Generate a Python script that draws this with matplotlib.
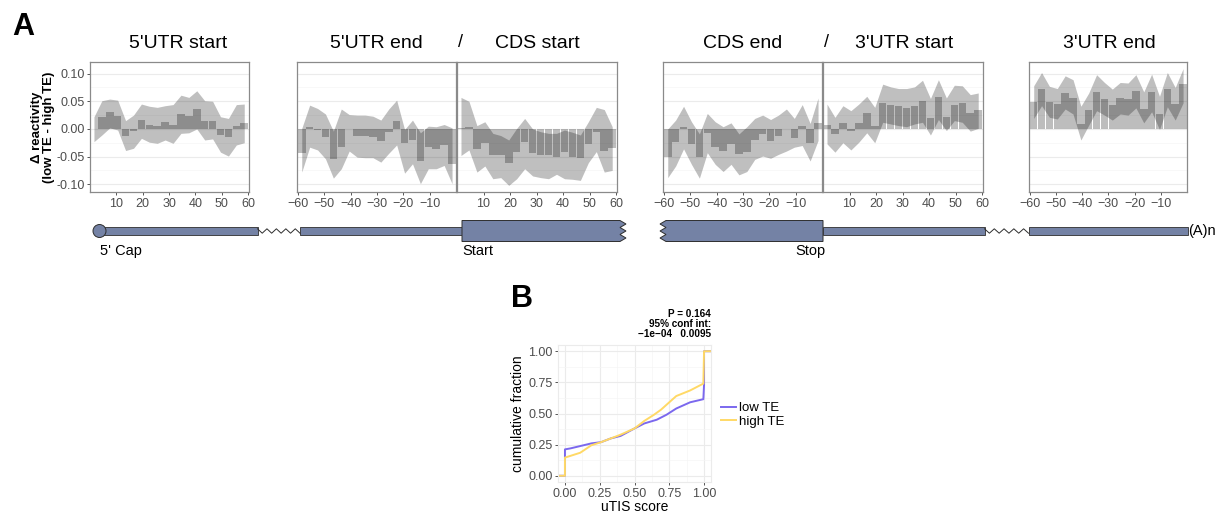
import numpy as np
import matplotlib.pyplot as plt
from matplotlib.patches import Rectangle, Circle, Polygon
from matplotlib.lines import Line2D

plt.rcParams["font.family"] = ["Liberation Sans", "DejaVu Sans"]

W, H = 1227, 513

# ---- panel A: delta reactivity (low TE - high TE) in 3-nt bins ----
pos_fwd = np.arange(1.5, 60, 3)      # bins counted from a start site
pos_rev = np.arange(-58.5, 0, 3)     # bins counted back from an end
ticks_fwd = [10, 20, 30, 40, 50, 60]
ticks_rev = [-60, -50, -40, -30, -20, -10]

utr5_start_bar = [-0.001, 0.022, 0.030, 0.024, -0.012, -0.004, 0.016, 0.008, 0.005, 0.012,
                  0.008, 0.027, 0.024, 0.036, 0.015, 0.015, -0.011, -0.015, 0.005, 0.010]
utr5_start_hi = [0.022, 0.051, 0.054, 0.052, 0.015, 0.025, 0.045, 0.041, 0.039, 0.042,
                 0.044, 0.061, 0.057, 0.069, 0.051, 0.050, 0.022, 0.019, 0.044, 0.045]
utr5_start_lo = [-0.023, -0.011, 0.002, -0.002, -0.039, -0.035, -0.017, -0.024, -0.026, -0.020,
                 -0.026, -0.008, -0.007, 0.000, -0.020, -0.018, -0.042, -0.049, -0.029, -0.025]

utr5_end_bar = [-0.043, 0.004, -0.002, -0.015, -0.054, -0.032, -0.001, -0.012, -0.012, -0.014,
                -0.022, -0.005, 0.014, -0.026, -0.020, -0.058, -0.033, -0.036, -0.029, -0.064]
utr5_end_hi = [0.001, 0.043, 0.037, 0.027, -0.004, 0.036, 0.026, 0.025, 0.025, 0.023,
               0.016, 0.036, 0.052, -0.001, 0.016, -0.007, 0.005, 0.004, 0.008, 0.002]
utr5_end_lo = [-0.078, -0.033, -0.038, -0.054, -0.089, -0.072, -0.040, -0.051, -0.052, -0.052,
               -0.060, -0.044, -0.029, -0.080, -0.063, -0.099, -0.072, -0.072, -0.066, -0.099]

cds_start_bar = [0.002, 0.003, -0.037, -0.026, -0.048, -0.047, -0.062, -0.041, -0.023, -0.044,
                 -0.047, -0.048, -0.050, -0.041, -0.050, -0.053, -0.028, -0.006, -0.040, -0.035]
cds_start_hi = [0.057, 0.050, 0.006, 0.013, -0.008, -0.012, -0.020, 0.001, 0.019, 0.000,
                -0.005, -0.008, -0.008, -0.002, -0.006, -0.011, 0.013, 0.039, 0.035, 0.004]
cds_start_lo = [-0.048, -0.038, -0.078, -0.067, -0.090, -0.088, -0.102, -0.090, -0.072, -0.085,
                -0.088, -0.090, -0.082, -0.090, -0.091, -0.093, -0.061, -0.041, -0.078, -0.075]

cds_end_bar = [-0.051, -0.024, 0.004, -0.027, -0.051, -0.007, -0.032, -0.040, -0.027, -0.046,
               -0.041, -0.020, -0.009, -0.021, -0.012, 0.000, -0.016, 0.006, -0.025, 0.011]
cds_end_hi = [0.000, 0.016, 0.041, 0.013, -0.009, 0.028, 0.013, 0.004, 0.011, -0.009,
              0.004, 0.019, 0.025, 0.017, 0.025, 0.036, 0.019, 0.044, 0.010, 0.056]
cds_end_lo = [-0.088, -0.067, -0.036, -0.064, -0.089, -0.043, -0.064, -0.077, -0.064, -0.083,
              -0.077, -0.055, -0.049, -0.053, -0.046, -0.040, -0.033, -0.030, -0.058, -0.021]

utr3_start_bar = [0.008, -0.010, 0.010, -0.004, 0.010, 0.028, 0.005, 0.047, 0.044, 0.041,
                  0.038, 0.041, 0.050, 0.020, 0.057, 0.022, 0.044, 0.047, 0.028, 0.035]
utr3_start_hi = [0.045, 0.021, 0.042, 0.033, 0.045, 0.059, 0.039, 0.081, 0.076, 0.073,
                 0.073, 0.076, 0.088, 0.055, 0.089, 0.056, 0.079, 0.078, 0.062, 0.065]
utr3_start_lo = [-0.027, -0.042, -0.025, -0.038, -0.024, -0.007, -0.025, 0.012, 0.009, 0.006,
                 0.004, 0.009, 0.012, -0.011, 0.017, -0.003, 0.015, 0.012, -0.004, 0.001]

utr3_end_bar = [0.049, 0.073, 0.048, 0.045, 0.065, 0.056, 0.009, 0.035, 0.067, 0.055,
                0.044, 0.056, 0.054, 0.069, 0.036, 0.067, 0.027, 0.073, 0.045, 0.081]
utr3_end_hi = [0.078, 0.102, 0.077, 0.073, 0.096, 0.089, 0.041, 0.065, 0.098, 0.084,
               0.072, 0.084, 0.083, 0.098, 0.067, 0.099, 0.059, 0.102, 0.075, 0.109]
utr3_end_lo = [0.019, 0.042, 0.021, 0.018, 0.036, 0.027, -0.020, 0.007, 0.033, 0.025,
               0.016, 0.027, 0.025, 0.038, 0.011, 0.031, -0.001, 0.040, 0.016, 0.047]

titles = ["5'UTR start", "5'UTR end", "CDS start", "CDS end", "3'UTR start", "3'UTR end"]

# ---- panel B: cumulative fraction of uTIS score ----
low_x = [-0.05, 0.0, 0.0, 0.04, 0.19, 0.26, 0.33, 0.40, 0.50, 0.57, 0.66, 0.73, 0.80, 0.90,
         0.995, 1.0, 1.0, 1.05]
low_y = [0.0, 0.0, 0.212, 0.22, 0.26, 0.27, 0.30, 0.32, 0.38, 0.42, 0.45, 0.49, 0.54, 0.59,
         0.615, 0.73, 1.0, 1.0]
high_x = [-0.05, 0.0, 0.0, 0.04, 0.11, 0.19, 0.26, 0.33, 0.40, 0.50, 0.57, 0.64, 0.69, 0.76,
          0.80, 0.90, 0.995, 1.0, 1.05]
high_y = [0.0, 0.0, 0.146, 0.16, 0.185, 0.245, 0.27, 0.30, 0.33, 0.38, 0.44, 0.49, 0.53, 0.60,
          0.64, 0.685, 0.74, 1.0, 1.0]
b_ticks = [0.0, 0.25, 0.5, 0.75, 1.0]


def fx(x):
    return x / W


def fy(y):
    return 1 - y / H


fig = plt.figure(figsize=(W / 100, H / 100), dpi=100)

# background axes in pixel units for the transcript schematic
bg = fig.add_axes([0, 0, 1, 1], zorder=0)
bg.set_xlim(0, W)
bg.set_ylim(H, 0)
bg.axis("off")

# ---- panel A ----
box_px = [(90, 249), (297, 456), (457, 617), (663, 822), (823, 983), (1029, 1187)]
top_px, bot_px = 62, 192
panel_data = [
    (pos_fwd, ticks_fwd, utr5_start_bar, utr5_start_lo, utr5_start_hi),
    (pos_rev, ticks_rev, utr5_end_bar, utr5_end_lo, utr5_end_hi),
    (pos_fwd, ticks_fwd, cds_start_bar, cds_start_lo, cds_start_hi),
    (pos_rev, ticks_rev, cds_end_bar, cds_end_lo, cds_end_hi),
    (pos_fwd, ticks_fwd, utr3_start_bar, utr3_start_lo, utr3_start_hi),
    (pos_rev, ticks_rev, utr3_end_bar, utr3_end_lo, utr3_end_hi),
]

for i, ((l, r), (x, ticks, bar, lo, hi)) in enumerate(zip(box_px, panel_data)):
    ax = fig.add_axes([fx(l), fy(bot_px), (r - l) / W, (bot_px - top_px) / H], zorder=1)
    ax.bar(x, bar, width=2.85, color="black", alpha=0.26, linewidth=0, zorder=2)
    ax.fill_between(x, lo, hi, color="black", alpha=0.25, linewidth=0, zorder=3)
    if ticks[0] > 0:
        ax.set_xlim(0, 60.3)
    else:
        ax.set_xlim(-60.3, 0)
    ax.set_ylim(-0.114, 0.121)
    ax.set_xticks(ticks)
    ax.set_yticks([-0.10, -0.05, 0.0, 0.05, 0.10])
    ax.set_yticks([-0.075, -0.025, 0.025, 0.075], minor=True)
    ax.grid(axis="y", which="major", color="#ebebeb", lw=0.8, zorder=0)
    ax.grid(axis="y", which="minor", color="#f5f5f5", lw=0.5, zorder=0)
    ax.set_axisbelow(True)
    for s in ax.spines.values():
        s.set_color("#8a8a8a")
        s.set_linewidth(0.9)
    ax.tick_params(axis="x", length=2.5, width=0.7, color="#555555", labelsize=9,
                   labelcolor="#4d4d4d", pad=1.5)
    if i == 0:
        ax.set_yticklabels(["-0.10", "-0.05", "0.00", "0.05", "0.10"])
        ax.tick_params(axis="y", which="major", length=2.5, width=0.7, color="#555555",
                       labelsize=9, labelcolor="#4d4d4d", pad=1.5)
        ax.tick_params(axis="y", which="minor", length=0)
    else:
        ax.tick_params(axis="y", which="both", left=False, labelleft=False)

title_x = [178, 376, 537, 743, 904, 1109]
for t, tx in zip(titles, title_x):
    fig.text(fx(tx), fy(44), t, ha="center", va="center", fontsize=14)
for sx in [461, 826]:
    fig.text(fx(sx), fy(43), "/", ha="center", va="center", fontsize=13)

fig.text(fx(12), fy(35), "A", fontsize=22, fontweight="bold", va="baseline")
fig.text(fx(43), fy(127), "\u0394 reactivity\n(low TE - high TE)", rotation=90,
         ha="center", va="center", fontsize=9.5, fontweight="bold", linespacing=1.0)

# ---- transcript schematic ----
y_mid = 231
thin_h, thick_h = 8, 21
rna_fc = "#7482a5"
rna_ec = "#2e2e2e"


def thin(x0, x1):
    bg.add_patch(Rectangle((x0, y_mid - thin_h / 2), x1 - x0, thin_h,
                           fc=rna_fc, ec=rna_ec, lw=0.6))


def zigzag(x0, x1, n=9):
    xs = np.linspace(x0, x1, n + 1)
    ys = [y_mid + (2.2 if k % 2 else -2.2) for k in range(n + 1)]
    bg.plot(xs, ys, color=rna_ec, lw=0.7)


def cds_box(x0, x1, jag="right", teeth=3, depth=6):
    t, b = y_mid - thick_h / 2, y_mid + thick_h / 2
    n = 2 * teeth
    if jag == "right":
        pts = [(x0, t), (x1, t)]
        pts += [(x1 + (depth if k % 2 else 0), t + k * thick_h / n) for k in range(1, n)]
        pts += [(x1, b), (x0, b)]
    else:
        pts = [(x1, t), (x0, t)]
        pts += [(x0 - (depth if k % 2 else 0), t + k * thick_h / n) for k in range(1, n)]
        pts += [(x0, b), (x1, b)]
    bg.add_patch(Polygon(pts, closed=True, fc=rna_fc, ec=rna_ec, lw=0.7))


thin(99.5, 257.5)
zigzag(257.5, 300)
thin(300, 462)
cds_box(462, 620, "right")
cds_box(666, 823, "left")
thin(823, 984.5)
zigzag(984.5, 1028.5)
thin(1028.5, 1187.5)
bg.add_patch(Circle((99.5, y_mid), 6.5, fc=rna_fc, ec=rna_ec, lw=0.7, zorder=5))

bg.text(100, 251, "5' Cap", va="center", ha="left", fontsize=10.5)
bg.text(462, 251, "Start", va="center", ha="left", fontsize=10.5)
bg.text(825, 251, "Stop", va="center", ha="right", fontsize=10.5)
bg.text(1188, y_mid, "(A)n", va="center", ha="left", fontsize=10.5)

# ---- panel B ----
axb = fig.add_axes([fx(558), fy(482), (711 - 558) / W, (482 - 345) / H], zorder=1)
axb.plot(low_x, low_y, color="#7b68ee", lw=1.4)
axb.plot(high_x, high_y, color="#ffd966", lw=1.4)
axb.set_xlim(-0.05, 1.05)
axb.set_ylim(-0.05, 1.05)
axb.set_xticks(b_ticks)
axb.set_yticks(b_ticks)
axb.set_xticklabels([f"{v:.2f}" for v in b_ticks])
axb.set_yticklabels([f"{v:.2f}" for v in b_ticks])
axb.set_xticks([0.125, 0.375, 0.625, 0.875], minor=True)
axb.set_yticks([0.125, 0.375, 0.625, 0.875], minor=True)
axb.grid(which="major", color="#ebebeb", lw=0.8)
axb.grid(which="minor", color="#f5f5f5", lw=0.5)
axb.set_axisbelow(True)
for s in axb.spines.values():
    s.set_color("#ebebeb")
axb.tick_params(which="major", length=2.5, width=0.7, color="#555555", labelsize=9,
                labelcolor="#4d4d4d", pad=1.5)
axb.tick_params(which="minor", length=0)
axb.set_xlabel("uTIS score", fontsize=10, labelpad=0)
axb.set_ylabel("cumulative fraction", fontsize=10, labelpad=2)

fig.legend(handles=[Line2D([], [], color="#7b68ee", lw=1.4, label="low TE"),
                    Line2D([], [], color="#ffd966", lw=1.4, label="high TE")],
           loc="center left", bbox_to_anchor=(fx(721), fy(415)), frameon=False,
           fontsize=9.5, handlelength=1.1, handletextpad=0.25, labelspacing=0.1,
           borderpad=0, borderaxespad=0)

fig.text(fx(511), fy(307), "B", fontsize=22, fontweight="bold", va="baseline")
fig.text(fx(711), fy(314), "P = 0.164", ha="right", va="center", fontsize=7.2,
         fontweight="bold")
fig.text(fx(711), fy(324), "95% conf int:", ha="right", va="center", fontsize=7.2,
         fontweight="bold")
fig.text(fx(711), fy(334), "\u22121e\u221204   0.0095", ha="right", va="center",
         fontsize=7.2, fontweight="bold")

fig.savefig("out.png", dpi=100)
